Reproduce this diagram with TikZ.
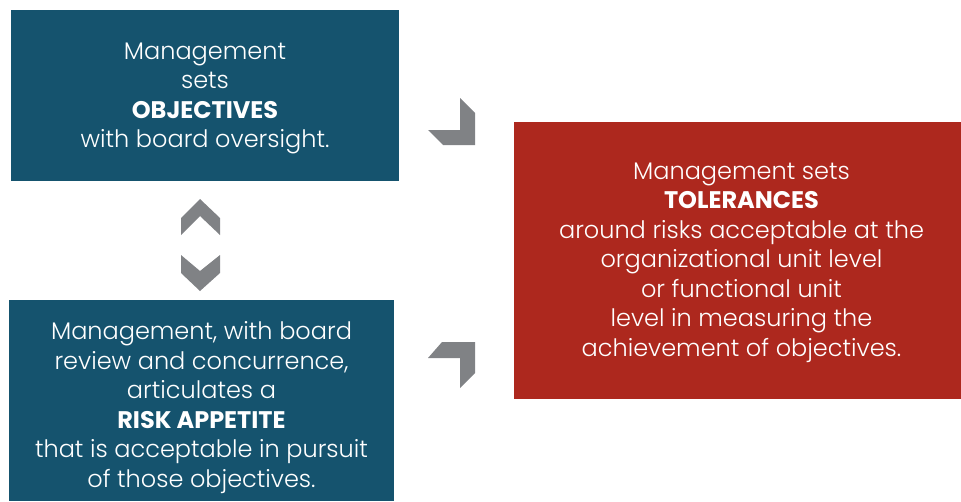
\documentclass[tikz,border=0pt]{standalone}
\usepackage{fontspec}
\setmainfont{Poppins}[UprightFont=* Light,BoldFont=* Bold]
\usetikzlibrary{positioning}
\definecolor{cosoblue}{RGB}{21,83,110}
\definecolor{cosored}{RGB}{173,40,30}
\definecolor{chevgray}{RGB}{128,130,133}

\begin{document}
\begin{tikzpicture}[x=1pt,y=-1pt,
	box/.style={rectangle,inner sep=0pt,text=white,align=center,font=\fontsize{24}{29.5}\selectfont},
	bluebox/.style={box,fill=cosoblue},
	redbox/.style={box,fill=cosored},
	chevron/.style={fill=chevgray,draw=none}]
		\useasboundingbox (0,0) rectangle (961,501);
		\node (obj) [bluebox,minimum width=388pt,minimum height=171pt] at (205,95.5) {};
		\node (app) [bluebox,minimum width=385pt,minimum height=201pt] at (201.5,400.5) {};
		\node (tol) [redbox,minimum width=447pt,minimum height=277pt] at (737.5,260.5) {};
		% texts
		\node (objtext) [box] at ([yshift=-3pt]obj.center) {Management\\sets\\\textbf{OBJECTIVES}\\with board oversight.};
		\node (apptext) [box] at ([yshift=-7pt]app.center) {Management, with board\\review and concurrence,\\articulates a\\\textbf{RISK APPETITE}\\that is acceptable in pursuit\\of those objectives.};
		\node (toltext) [box] at ([xshift=4pt,yshift=-2pt]tol.center) {Management sets\\\textbf{TOLERANCES}\\around risks acceptable at the\\organizational unit level\\or functional unit\\level in measuring the\\achievement of objectives.};
		% arrows between the boxes
		\fill[chevron] (181,235) -- (181,218) -- (200,199) -- (220,218) -- (220,235) -- (200,216) -- cycle;
		\fill[chevron] (181,255) -- (200,271) -- (220,255) -- (220,273) -- (200,291) -- (181,273) -- cycle;
		\fill[chevron] (460,98) -- (475,113) -- (475,145) -- (443,145) -- (428,130) -- (460,130) -- cycle;
		\fill[chevron] (442,342) -- (475,342) -- (475,373) -- (460,388) -- (460,358) -- (428,358) -- cycle;
	\end{tikzpicture}
\end{document}
